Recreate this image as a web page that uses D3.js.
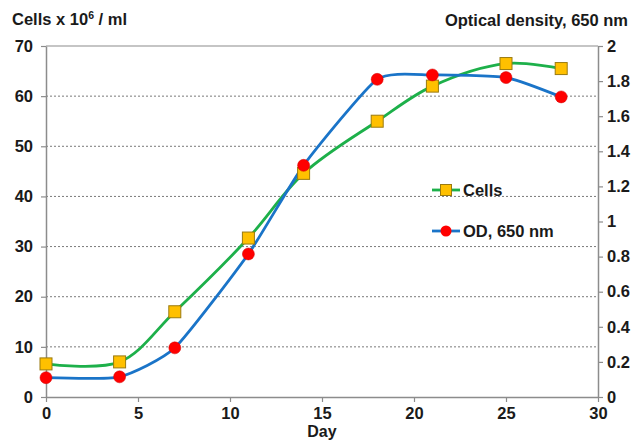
<!DOCTYPE html>
<html><head><meta charset="utf-8">
<script src="https://cdn.jsdelivr.net/npm/d3@7"></script>
<style>body{margin:0;background:#fff}svg{display:block;font-family:"Liberation Sans",Arial,sans-serif;font-weight:bold}</style>
</head><body><svg id="c" width="639" height="440"></svg>
<script>
const days = [0, 4, 7, 11, 14, 18, 21, 25, 28];
const cells = [6.6, 7.0, 17.0, 31.7, 44.6, 55.0, 62.0, 66.5, 65.5];
const od = [0.11, 0.115, 0.28, 0.815, 1.32, 1.81, 1.835, 1.82, 1.71];
const xTicks = [0, 5, 10, 15, 20, 25, 30];
const yLeftTicks = [0, 10, 20, 30, 40, 50, 60, 70];
const yRightTicks = [0, 0.2, 0.4, 0.6, 0.8, 1, 1.2, 1.4, 1.6, 1.8, 2];
const seriesNames = ["Cells", "OD, 650 nm"];

const svg = d3.select("#c");
const L = 46, R = 598, T = 46, B = 397;
const x = d3.scaleLinear().domain([0, 30]).range([L, R]);
const yL = d3.scaleLinear().domain([0, 70]).range([B, T]);
const yR = d3.scaleLinear().domain([0, 2]).range([B, T]);
const axisCol = "#8c8c8c";
const FONT = "'Liberation Sans', Arial, sans-serif";

// gridlines
svg.append("g").selectAll("line").data(yLeftTicks.filter(d => d > 0 && d < 70)).join("line")
  .attr("x1", L).attr("x2", R).attr("y1", d => yL(d)).attr("y2", d => yL(d))
  .attr("stroke", "#7a7a7a").attr("stroke-width", 1).attr("stroke-dasharray", "2,2");
// top border
svg.append("line").attr("x1", L).attr("x2", R).attr("y1", T).attr("y2", T)
  .attr("stroke", axisCol).attr("stroke-width", 1.2);

function styleAxis(g) {
  g.selectAll(".domain").attr("stroke", axisCol).attr("stroke-width", 1.5);
  g.selectAll(".tick line").attr("stroke", axisCol).attr("stroke-width", 1.2);
  g.selectAll("text").attr("font-size", 16.5).attr("font-weight", "bold").attr("fill", "#1a1a1a")
    .attr("font-family", FONT);
}
svg.append("g").attr("transform", `translate(0,${B})`)
  .call(d3.axisBottom(x).tickValues(xTicks).tickSize(5).tickSizeOuter(0).tickPadding(5).tickFormat(d3.format("d")))
  .call(styleAxis);
svg.append("g").attr("transform", `translate(${L},0)`)
  .call(d3.axisLeft(yL).tickValues(yLeftTicks).tickSize(5).tickSizeOuter(0).tickPadding(8).tickFormat(d3.format("d")))
  .call(styleAxis);
svg.append("g").attr("transform", `translate(${R},0)`)
  .call(d3.axisRight(yR).tickValues(yRightTicks).tickSize(5).tickSizeOuter(0).tickPadding(4).tickFormat(d => d3.format("")(+d.toFixed(1))))
  .call(styleAxis);

// axis titles
svg.append("text").attr("x", 12).attr("y", 25).attr("font-size", 16.5).attr("fill", "#1a1a1a")
  .html('Cells x 10<tspan dy="-6" font-size="10.5">6</tspan><tspan dy="6"> / ml</tspan>');
svg.append("text").attr("x", 628).attr("y", 26).attr("font-size", 16.5).attr("fill", "#1a1a1a")
  .attr("text-anchor", "end").text("Optical density, 650 nm");
svg.append("text").attr("x", x(15)).attr("y", 437).attr("font-size", 16).attr("fill", "#1a1a1a")
  .attr("text-anchor", "middle").text("Day");

const green = "#1db04a", blue = "#1a74c8";
const lineCells = d3.line().x((d, i) => x(days[i])).y(d => yL(d)).curve(d3.curveCatmullRom.alpha(0.5));
const lineOD = d3.line().x((d, i) => x(days[i])).y(d => yR(d)).curve(d3.curveCardinal.tension(0.45));

svg.append("path").attr("d", lineCells(cells)).attr("fill", "none").attr("stroke", green).attr("stroke-width", 2.8);
svg.append("path").attr("d", lineOD(od)).attr("fill", "none").attr("stroke", blue).attr("stroke-width", 2.8);

const sq = 12;
svg.append("g").selectAll("rect").data(cells).join("rect")
  .attr("x", (d, i) => x(days[i]) - sq / 2).attr("y", d => yL(d) - sq / 2)
  .attr("width", sq).attr("height", sq).attr("fill", "#ffc000").attr("stroke", "#9a7a10").attr("stroke-width", 1);
svg.append("g").selectAll("circle").data(od).join("circle")
  .attr("cx", (d, i) => x(days[i])).attr("cy", d => yR(d)).attr("r", 6)
  .attr("fill", "#ff0000").attr("stroke", "#d00000").attr("stroke-width", 0.5);

// legend
const leg = svg.append("g");
const legY = [190, 231];
[green, blue].forEach((c, i) => {
  leg.append("line").attr("x1", 432).attr("x2", 460).attr("y1", legY[i]).attr("y2", legY[i])
    .attr("stroke", c).attr("stroke-width", 2.8);
  if (i === 0) {
    leg.append("rect").attr("x", 446 - 5.5).attr("y", legY[i] - 5.5).attr("width", 11).attr("height", 11)
      .attr("fill", "#ffc000").attr("stroke", "#9a7a10");
  } else {
    leg.append("circle").attr("cx", 446).attr("cy", legY[i]).attr("r", 5.5).attr("fill", "#ff0000");
  }
  leg.append("text").attr("x", 463).attr("y", legY[i] + 6).attr("font-size", 16.5).attr("fill", "#1a1a1a")
    .text(seriesNames[i]);
});
</script></body></html>
